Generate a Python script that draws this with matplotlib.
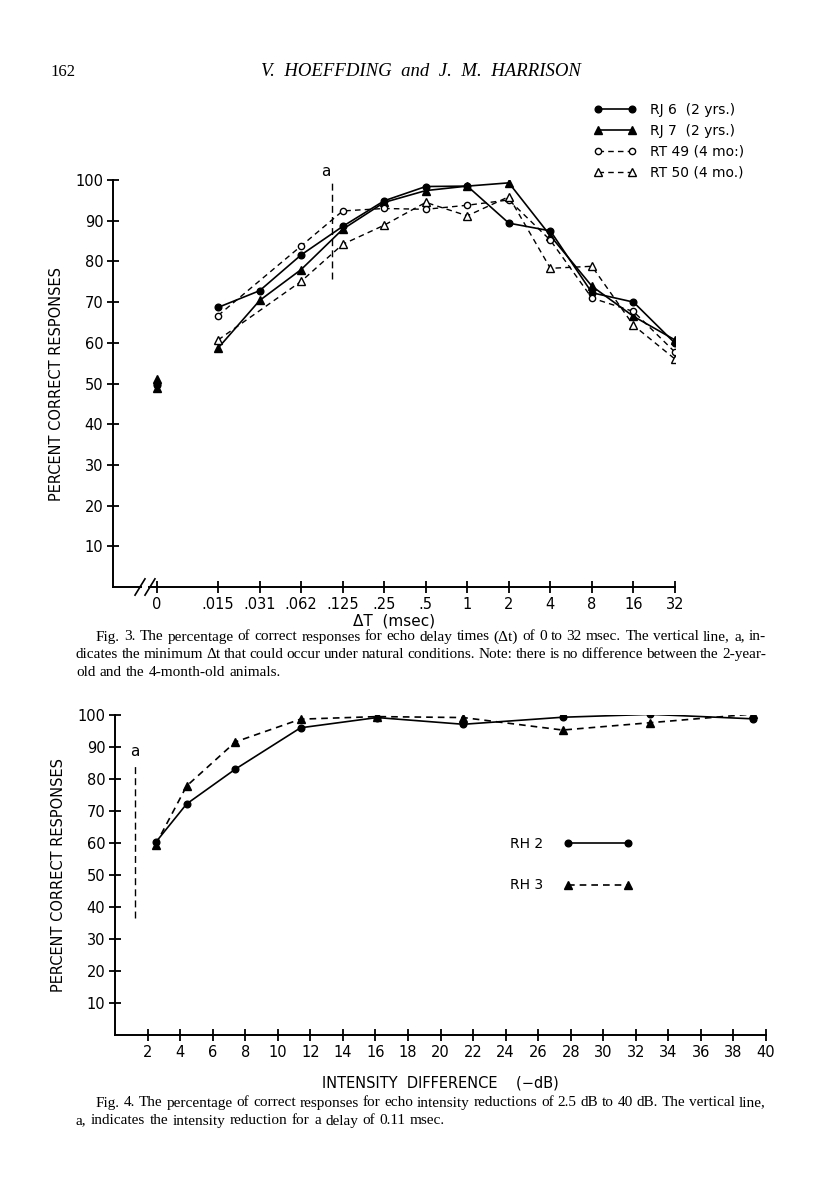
import numpy as np
import matplotlib
matplotlib.use("Agg")
import matplotlib.pyplot as plt

# ---- Fig. 3 data (percent correct vs echo delay) ----
delay_labels = ['.015', '.031', '.062', '.125', '.25', '.5', '1', '2', '4', '8', '16', '32']
rj6 = [68.7, 72.8, 81.6, 88.6, 94.9, 98.4, 98.5, 89.4, 87.5, 72.3, 70.0, 59.9]
rj7 = [58.7, 70.4, 78.0, 87.9, 94.5, 97.4, 98.5, 99.3, 86.3, 73.9, 66.5, 60.7]
rt49 = [66.7, None, 83.8, 92.4, 93.0, 92.8, 93.8, 95.1, 85.2, 71.0, 67.7, 57.7]
rt50 = [60.7, None, 75.1, 84.2, 88.9, 94.5, 91.2, 95.9, 78.3, 78.8, 64.3, 56.0]
zero_vals = {'RJ 6': 49.6, 'RJ 7': 51.2, 'RT 49': 50.0, 'RT 50': 48.8}
y_ticks = [10, 20, 30, 40, 50, 60, 70, 80, 90, 100]

# ---- Fig. 4 data (percent correct vs intensity reduction) ----
db = [2.5, 4.4, 7.4, 11.4, 16.1, 21.4, 27.5, 32.9, 39.2]
rh2 = [60.2, 72.2, 83.1, 96.0, 99.2, 97.1, 99.3, 100.2, 98.8]
rh3 = [59.5, 77.8, 91.6, 98.7, 99.5, 99.2, 95.3, 97.6, 100.3]
db_ticks = list(range(2, 41, 2))

sans = 'DejaVu Sans'
serif = 'Liberation Serif'
dash = (0, (4, 3))

fig = plt.figure(figsize=(8.16, 12), dpi=100)
renderer = fig.canvas.get_renderer()


def justify(text, y, x_left, x_right, size=11.0, last=False):
    # place words one by one so the line fills x_left..x_right
    words = text.split(' ')
    arts = [fig.text(0, 1-y/1200, w, family=serif, fontsize=size, va='center') for w in words]
    widths = [a.get_window_extent(renderer).width for a in arts]
    if last or len(words) < 2:
        gap = size * 0.4
    else:
        gap = (x_right - x_left - sum(widths)) / (len(words) - 1)
    xp = x_left
    for a, w in zip(arts, widths):
        a.set_x(xp/816)
        xp += w + gap


# header
fig.text(50/816, 1-72/1200, '162', family=serif, fontsize=12, va='center')
fig.text(421/816, 1-72/1200, 'V.  HOEFFDING  and  J.  M.  HARRISON', family=serif,
         style='italic', fontsize=13.5, ha='center', va='center')


def style_axes(ax):
    for s in ['top', 'right']:
        ax.spines[s].set_visible(False)
    for s in ['left', 'bottom']:
        ax.spines[s].set_linewidth(1.4)
    ax.tick_params(direction='inout', length=8, width=1.3, labelsize=10.5, pad=3)
    ax.set_yticks(y_ticks)
    ax.set_ylim(0, 100)


# ================= Fig. 3 =================
ax1 = fig.add_axes([113/816, 1-587/1200, 562/816, 407/1200])
style_axes(ax1)
x = np.arange(1, len(delay_labels)+1)
x0 = -0.48


def series(vals):
    xs = [xi for xi, v in zip(x, vals) if v is not None]
    ys = [v for v in vals if v is not None]
    return xs, ys


ax1.plot(*series(rj6), '-', color='k', lw=1.2, marker='o', ms=4.8, label='RJ 6  (2 yrs.)')
ax1.plot(*series(rj7), '-', color='k', lw=1.2, marker='^', ms=5.8, label='RJ 7  (2 yrs.)')
ax1.plot(*series(rt49), linestyle=dash, color='k', lw=1.0, marker='o', ms=4.5, mfc='white',
         label='RT 49 (4 mo:)')
ax1.plot(*series(rt50), linestyle=dash, color='k', lw=1.0, marker='^', ms=5.8, mfc='white',
         label='RT 50 (4 mo.)')
ax1.plot([x0], [zero_vals['RT 49']], 'o', color='k', ms=4.5, mfc='white')
ax1.plot([x0], [zero_vals['RJ 6']], 'o', color='k', ms=4.8)
ax1.plot([x0], [zero_vals['RT 50']], '^', color='k', ms=5.8)
ax1.plot([x0], [zero_vals['RJ 7']], '^', color='k', ms=5.8)

# vertical line a
ax1.plot([3.74, 3.74], [75.6, 99.4], linestyle=(0, (5, 3)), color='k', lw=1.0)
ax1.text(3.6, 102, 'a', family=sans, fontsize=11, ha='center', va='center')

ax1.set_xlim(-1.53, 12)
ax1.set_xticks([x0] + list(x))
ax1.set_xticklabels(['0'] + delay_labels)

# broken x axis
ax1.spines['bottom'].set_visible(False)
ax1.plot([-1.53, -0.86], [0, 0], color='k', lw=1.4, clip_on=False)
ax1.plot([-0.66, 12], [0, 0], color='k', lw=1.4, clip_on=False)
for bx in (-0.86, -0.62):
    ax1.plot([bx-0.14, bx+0.1], [-2.0, 2.0], color='k', lw=1.2, clip_on=False)

ax1.set_xlabel('ΔT  (msec)', family=sans, fontsize=11, labelpad=1)
ax1.set_ylabel('PERCENT CORRECT RESPONSES', family=sans, fontsize=10.5, labelpad=8)
ax1.legend(loc='upper left', bbox_to_anchor=(0.855, 1.19), frameon=False,
           numpoints=2, handlelength=3.1, handletextpad=1.0, labelspacing=0.5,
           borderpad=0, borderaxespad=0, prop={'family': sans, 'size': 10})

cap3 = ["Fig. 3. The percentage of correct responses for echo delay times (Δt) of 0 to 32 msec. The vertical line, a, in-",
        "dicates the minimum Δt that could occur under natural conditions. Note: there is no difference between the 2-year-",
        "old and the 4-month-old animals."]
justify(cap3[0], 637, 96, 766)
justify(cap3[1], 655, 76, 766)
justify(cap3[2], 673, 76, 766, last=True)

# ================= Fig. 4 =================
ax2 = fig.add_axes([115/816, 1-1035/1200, 651/816, 320/1200])
style_axes(ax2)
ax2.plot(db, rh2, '-', color='k', lw=1.2, marker='o', ms=4.8, label='RH 2')
ax2.plot(db, rh3, linestyle=dash, color='k', lw=1.2, marker='^', ms=5.8, label='RH 3')
ax2.plot([1.2, 1.2], [36.5, 84.4], linestyle=(0, (5, 3)), color='k', lw=1.0)
ax2.text(1.2, 88.5, 'a', family=sans, fontsize=11, ha='center', va='center')
ax2.set_xlim(0, 40)
ax2.set_xticks(db_ticks)
ax2.set_xticklabels([str(t) for t in db_ticks])
ax2.set_xlabel('INTENSITY  DIFFERENCE    (−dB)', family=sans, fontsize=10.5, labelpad=11)
ax2.set_ylabel('PERCENT CORRECT RESPONSES', family=sans, fontsize=10.5, labelpad=8)
ax2.legend(loc='upper left', bbox_to_anchor=(0.607, 0.62), frameon=False,
           numpoints=2, markerfirst=False, handlelength=4.9, handletextpad=1.5,
           labelspacing=2.0, borderpad=0, borderaxespad=0,
           prop={'family': sans, 'size': 10})

cap4 = ["Fig. 4. The percentage of correct responses for echo intensity reductions of 2.5 dB to 40 dB. The vertical line,",
        "a, indicates the intensity reduction for a delay of 0.11 msec."]
justify(cap4[0], 1103, 96, 766)
justify(cap4[1], 1121, 76, 766, last=True)

fig.savefig('out.png', dpi=100, facecolor='white')
